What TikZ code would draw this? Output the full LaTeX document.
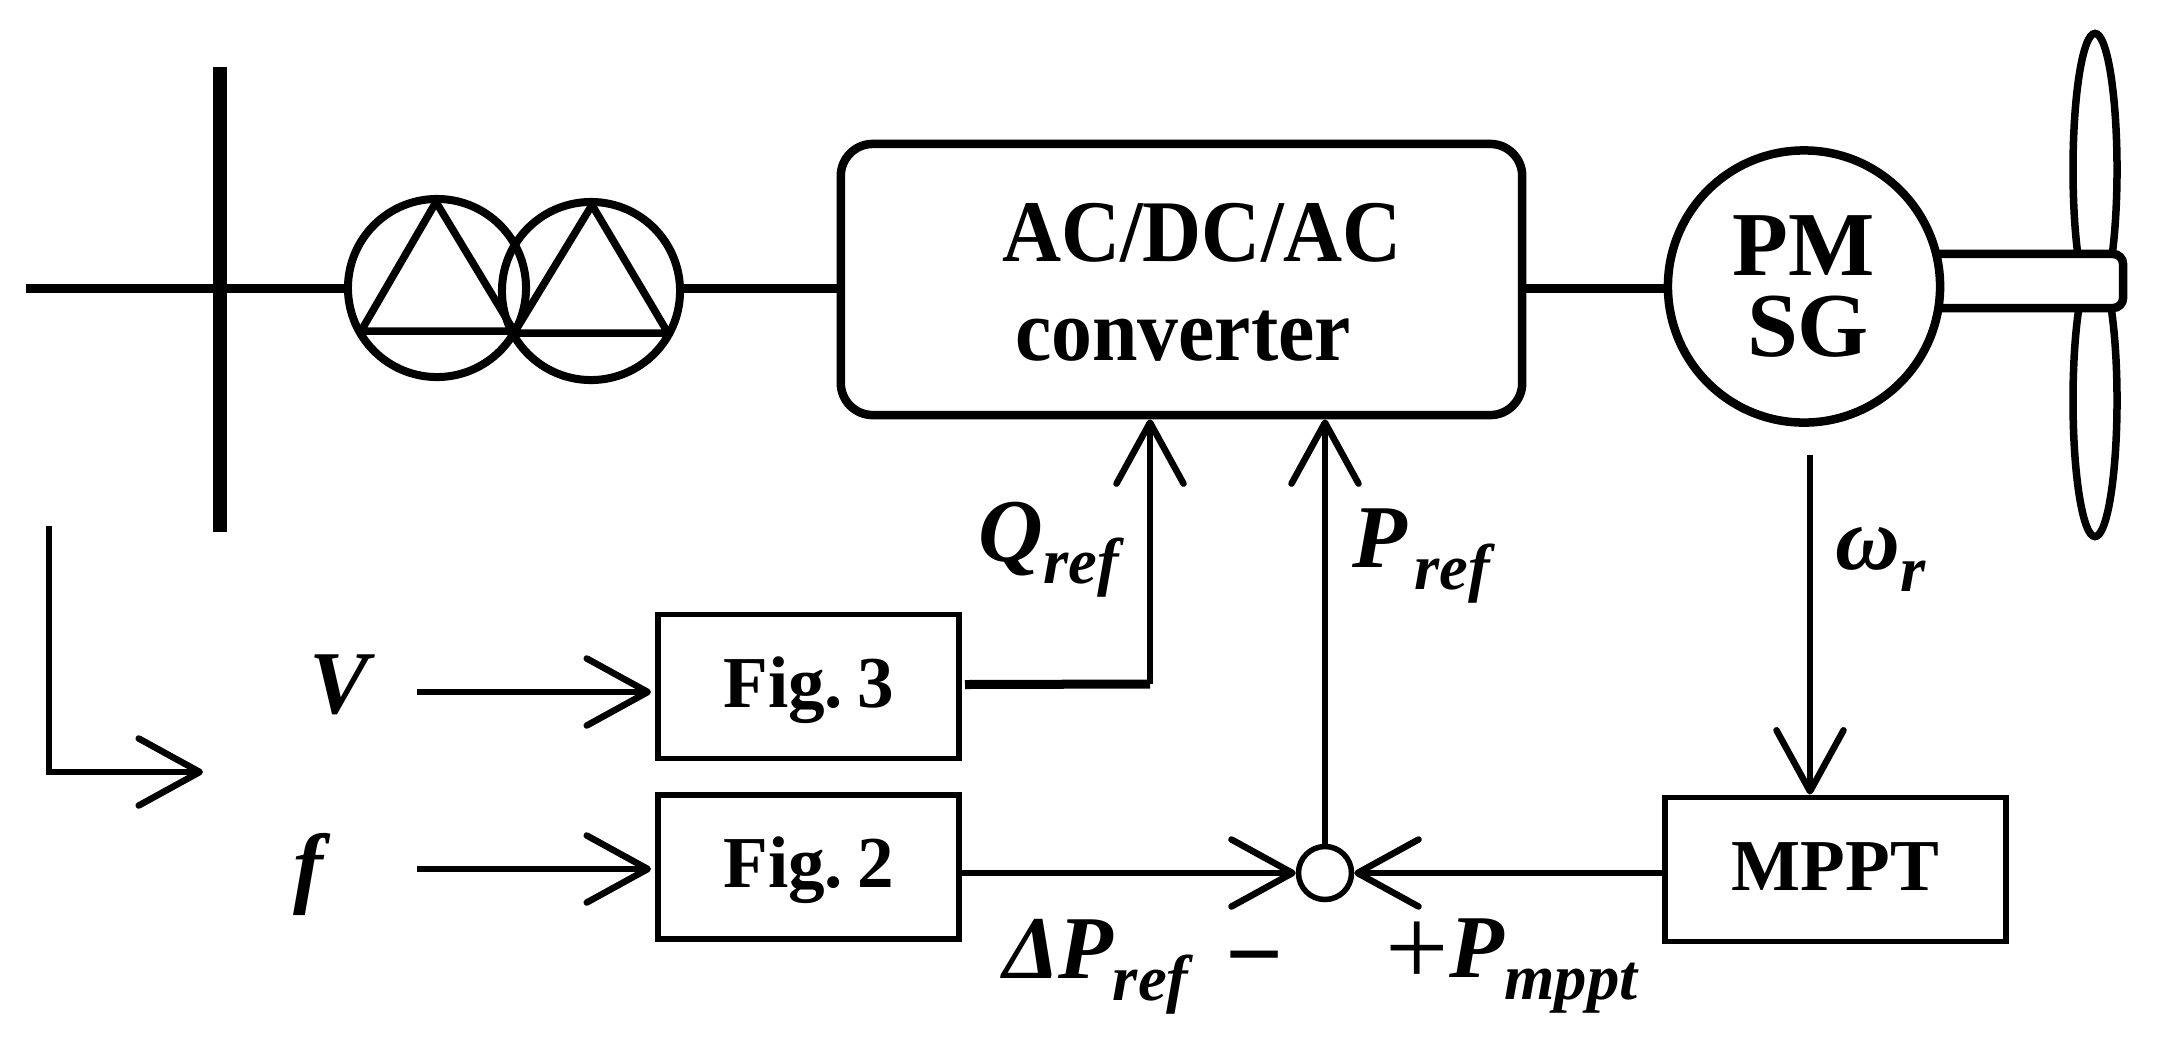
\documentclass[tikz,border=0pt]{standalone}
\usepackage{fontspec}
\setmainfont{Liberation Serif}
\usetikzlibrary{shapes,arrows.meta}
\tikzstyle{conn} = [line width=0.09cm]
\tikzstyle{line} = [draw, line width=0.065cm, -{Straight Barb[length=0.61cm,width=0.67cm,round]}]
\tikzstyle{block} = [rectangle, draw, line width=0.058cm, minimum width=3.01cm, minimum height=1.44cm,
    inner sep=0, text height=0.5cm, text depth=0.09cm, font=\fontsize{20.8}{20.8}\selectfont\bfseries]
\tikzstyle{winding} = [circle, draw, line width=0.08cm, minimum size=1.78cm, inner sep=0]
\tikzstyle{delta} = [line width=0.075cm, line join=round]
\tikzstyle{blade} = [ellipse, draw, line width=0.075cm, minimum width=0.44cm, minimum height=2.72cm, inner sep=0]
\tikzstyle{big} = [inner sep=0, anchor=base, font=\fontsize{25}{25}\selectfont\bfseries\addfontfeature{FakeStretch=0.93}]
\tikzstyle{sym} = [inner sep=0, anchor=base west, font=\fontsize{25.5}{25.5}\selectfont\bfseries\itshape]
\newcommand{\subbed}[2]{#1\raisebox{-0.22cm}{\fontsize{18.4}{18.4}\selectfont #2}}
\begin{document}
\begin{tikzpicture}[x=0.01cm, y=-0.01cm]
        \useasboundingbox (0,0) rectangle (2176,1048);
        % Grid side
        \coordinate (bustop) at (220,67);
        \coordinate (busbot) at (220,532);
        \coordinate (grid) at (26,288);
        \draw [line width=0.14cm] (bustop) -- (busbot);
        \node (tr1) [winding] at (437,288) {};
        \node (tr2) [winding] at (591,291) {};
        \draw [conn] (grid) -- (tr1);
        \draw [delta] (436,202) -- (514,331) -- (361,331) -- cycle;
        \draw [delta] (592,205) -- (668,333) -- (514,333) -- cycle;

        %Converter
        \node (conv) [rectangle, draw, line width=0.085cm, rounded corners=0.32cm,
            minimum width=6.81cm, minimum height=2.71cm, inner sep=0] at (1181.5,279.5) {};
        \draw [conn] (tr2.east |- grid) -- (conv.west |- grid);
        \path (conv.center)+(20.5,-18.5) node (acdc) [big] {AC/DC/AC};
        \path (conv.center)+(1.5,80.5) node (convtext) [big] {converter};

        %Turbine
        \node (upper) [blade] at (2095,169.5) {};
        \node (lower) [blade] at (2095,400.5) {};
        \node (shaft) [rectangle, draw, fill=white, line width=0.085cm, rounded corners=0.1cm,
            minimum width=2.3cm, minimum height=0.54cm, inner sep=0] at (2008,281) {};
        \node (pmsg) [circle, draw, fill=white, line width=0.085cm, minimum size=2.72cm, inner sep=0,
            align=center, font=\fontsize{26}{23.3}\selectfont\bfseries] at (1804,286.5) {PM\\\hspace*{0.08cm}SG};
        \draw [conn] (conv.east |- grid) -- (pmsg.west |- grid);

        %Control blocks
        \node (fig3) [block] at (808.5,686.5) {Fig.\hspace{0.19em}3};
        \node (fig2) [block] at (808.5,867) {Fig.\hspace{0.19em}2};
        \node (mppt) [block, minimum width=3.41cm] at (1835.5,869.5) {MPPT};
        \node (sum) [circle, draw, line width=0.055cm, minimum size=0.53cm, inner sep=0] at (1325,873) {};

        %Inputs
        \coordinate (vin) at (417,692);
        \coordinate (fin) at (417,869);
        \path [line] (vin) -- ([xshift=-0.04cm]vin -| fig3.west);
        \path [line] (fin) -- ([xshift=-0.04cm]fin -| fig2.west);
        \path (vin)+(-108,21) node (vlabel) [sym] {V};
        \path (fin)+(-124,27) node (flabel) [sym] {f};

        %Feedback
        \coordinate (ltop) at (49,526);
        \coordinate (lcorner) at (49,772);
        \coordinate (ltip) at (203,772);
        \path [line] (ltop) -- (lcorner) -- (ltip);

        %References
        \coordinate (qcorner) at (1150,684);
        \draw [conn] (fig3.east)+(3,-2) -- (qcorner);
        \path [line] (qcorner) -- (qcorner |- conv.south);
        \path [line] (sum) -- (sum |- conv.south);
        \path [line] (sum -| fig2.east) -- (sum);
        \path [line] (sum -| mppt.west) -- (sum);
        \coordinate (speed) at (1810,455);
        \path [line] (speed) -- (speed |- mppt.north);

        %Labels
        \node (qref) [sym] at (978,561) {\subbed{Q}{ref}};
        \node (pref) [sym] at (1352,567) {\subbed{P\kern0.07cm}{ref}};
        \node (wr) [sym] at (1835,569) {\subbed{ω}{r}};
        \node (dpref) [sym] at (1003,978) {\subbed{Δ\kern-0.02em P}{ref}};
        \node (minus) [inner sep=0, anchor=base west, font=\fontsize{29}{29}\selectfont\bfseries] at (1225,988) {−};
        \node (plus) [inner sep=0, anchor=base west, font=\fontsize{32}{32}\selectfont] at (1385,985) {+};
        \node (pmppt) [sym] at (1449,977) {\subbed{P}{mppt}};
    \end{tikzpicture}
\end{document}
